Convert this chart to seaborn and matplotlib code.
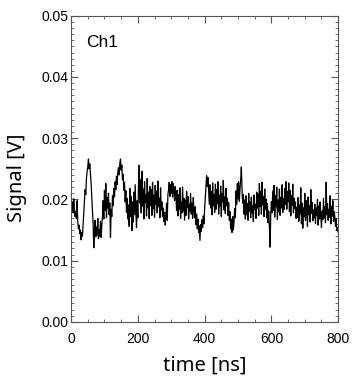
import numpy as np
import pandas as pd
import matplotlib
matplotlib.use("Agg")
import matplotlib.pyplot as plt
from matplotlib.ticker import MultipleLocator, FormatStrFormatter
import seaborn as sns

# sample interval of the trace, ns
dt_ns = 2

# Ch1 signal in mV, one value every 2 ns from 0 to 800 ns
signal_mv = [
    19.0, 18.2, 19.6, 17.8, 20.1, 18.4, 17.2, 18.0, 16.9, 19.8, 16.4, 15.2, 15.8, 14.4, 15.0, 13.4, 14.6, 14.0, 15.9, 17.8,
    19.5, 21.6, 20.8, 23.4, 24.6, 25.3, 26.6, 25.0, 25.8, 24.1, 22.6, 20.4, 18.1, 16.0, 12.1, 14.8, 16.6, 13.9, 15.5, 14.2,
    16.9, 13.6, 15.1, 14.0, 16.4, 13.8, 15.7, 17.2, 19.8, 16.8, 21.5, 18.2, 22.6, 17.0, 20.3, 18.6, 21.0, 17.5, 19.4, 13.8,
    18.4, 17.2, 20.6, 19.0, 21.8, 20.4, 22.9, 21.6, 23.8, 22.4, 24.5, 25.2, 24.0, 25.9, 26.6, 24.8, 25.6, 23.2, 24.1, 21.5,
    22.8, 19.6, 21.4, 17.9, 20.2, 16.8, 19.1, 15.6, 21.8, 17.2, 20.5, 14.9, 19.6, 16.3, 21.2, 17.5, 22.4, 18.0, 15.4, 19.8,
    17.0, 22.5, 25.6, 19.4, 23.2, 17.8, 24.6, 18.9, 21.7, 16.8, 22.9, 19.5, 20.8, 17.3, 23.4, 18.6, 21.2, 16.9, 22.1, 19.0,
    21.6, 17.4, 22.8, 18.5, 20.7, 17.1, 22.3, 19.2, 21.4, 17.8, 23.0, 18.8, 20.2, 17.0, 21.9, 18.3, 19.6, 17.2, 18.6, 16.4,
    17.9, 15.8, 17.0, 19.4, 16.6, 20.8, 21.6, 22.8, 20.5, 22.4, 21.0, 22.9, 20.4, 22.6, 21.2, 19.8, 22.1, 20.6, 18.2, 21.5,
    17.3, 20.8, 18.4, 21.9, 16.9, 19.6, 17.8, 22.0, 18.1, 20.2, 16.6, 19.9, 17.4, 21.3, 18.7, 20.5, 16.8, 19.2, 18.0, 21.0,
    17.6, 19.4, 16.9, 20.3, 18.2, 17.0, 18.8, 15.9, 17.6, 15.2, 16.8, 14.6, 15.7, 13.3, 15.9, 14.8, 16.7, 15.4, 17.3, 16.0,
    18.5, 20.4, 22.6, 23.9, 22.1, 23.6, 21.5, 19.2, 22.4, 18.6, 21.3, 17.5, 22.7, 19.0, 20.8, 17.9, 22.5, 18.4, 21.6, 19.3,
    22.9, 17.6, 20.7, 18.9, 22.2, 17.2, 21.0, 19.6, 23.1, 18.3, 20.4, 17.7, 21.8, 19.0, 20.2, 17.4, 19.5, 16.6, 18.0, 15.2,
    16.8, 14.6, 17.2, 15.0, 16.3, 18.5, 17.0, 21.4, 19.2, 22.6, 20.1, 22.9, 19.7, 21.8, 23.2, 25.3, 21.6, 19.4, 20.8, 17.6,
    19.9, 16.8, 20.6, 17.5, 19.3, 16.6, 21.0, 18.1, 19.6, 17.0, 20.4, 17.8, 19.0, 16.4, 20.7, 18.3, 19.2, 16.9, 21.2, 18.6,
    20.9, 17.4, 22.6, 18.9, 21.3, 17.6, 22.8, 19.1, 20.5, 17.2, 21.7, 18.4, 20.0, 17.0, 19.3, 16.2, 18.1, 15.5, 12.2, 17.4,
    19.6, 17.8, 21.4, 18.2, 22.3, 17.1, 20.6, 18.8, 22.0, 16.7, 19.9, 18.0, 21.7, 17.4, 20.3, 18.6, 22.4, 17.9, 20.1, 18.4,
    21.8, 19.2, 22.9, 18.4, 21.3, 19.7, 22.7, 18.0, 21.5, 17.3, 20.6, 19.0, 22.5, 17.8, 20.2, 18.5, 19.6, 16.9, 18.7, 17.1,
    20.3, 16.4, 19.1, 17.6, 21.9, 16.0, 19.4, 15.3, 18.6, 17.2, 21.0, 16.6, 19.8, 18.1, 15.6, 20.4, 17.5, 19.0, 16.3, 21.6,
    17.7, 19.5, 16.5, 18.3, 17.0, 19.2, 16.1, 18.6, 17.4, 20.0, 15.8, 18.9, 16.8, 19.6, 17.2, 15.4, 18.1, 16.7, 20.2, 17.0,
    18.8, 16.2, 22.8, 17.5, 19.3, 16.6, 18.4, 17.1, 20.6, 16.0, 18.9, 17.3, 19.8, 16.4, 18.0, 17.2, 15.6, 16.8, 14.9, 15.4,
    14.6,
]

channel = "Ch1"
x_label = "time [ns]"
y_label = "Signal [V]"

df = pd.DataFrame({
    "time": np.arange(len(signal_mv)) * dt_ns,
    "signal": np.array(signal_mv) / 1000.0,
})

sns.set_style("ticks")
plt.rcParams["font.family"] = ["Liberation Sans", "DejaVu Sans"]
plt.rcParams["text.color"] = "black"
plt.rcParams["axes.labelcolor"] = "black"

fig = plt.figure(figsize=(3.59, 3.85), dpi=100)
ax = fig.add_axes([0.198, 0.164, 0.744, 0.795])

sns.lineplot(data=df, x="time", y="signal", color="black", linewidth=0.9, ax=ax)

ax.set_xlim(0, 800)
ax.set_ylim(0, 0.05)
ax.xaxis.set_major_locator(MultipleLocator(200))
ax.xaxis.set_minor_locator(MultipleLocator(50))
ax.yaxis.set_major_locator(MultipleLocator(0.01))
ax.yaxis.set_minor_locator(MultipleLocator(0.001))
ax.yaxis.set_major_formatter(FormatStrFormatter("%.2f"))

frame = "#555555"
for s in ax.spines.values():
    s.set_color(frame)
    s.set_linewidth(0.8)
ax.tick_params(which="both", direction="in", top=True, right=True,
               color=frame, labelsize=10, labelcolor="black")
ax.tick_params(which="major", length=5, width=0.8)
ax.tick_params(which="minor", length=2.5, width=0.6)
ax.tick_params(axis="x", which="major", pad=7)
ax.tick_params(axis="y", which="major", pad=2)

ax.set_xlabel(x_label, fontsize=14.5, family=["Noto Sans", "DejaVu Sans"], labelpad=7)
ax.set_ylabel(y_label, fontsize=14.5, family=["Noto Sans", "DejaVu Sans"])
ax.yaxis.set_label_coords(-0.165, 0.47)

ax.text(0.058, 0.898, channel, transform=ax.transAxes, fontsize=12.5,
        ha="left", va="baseline")

fig.savefig("out.png", dpi=100)
